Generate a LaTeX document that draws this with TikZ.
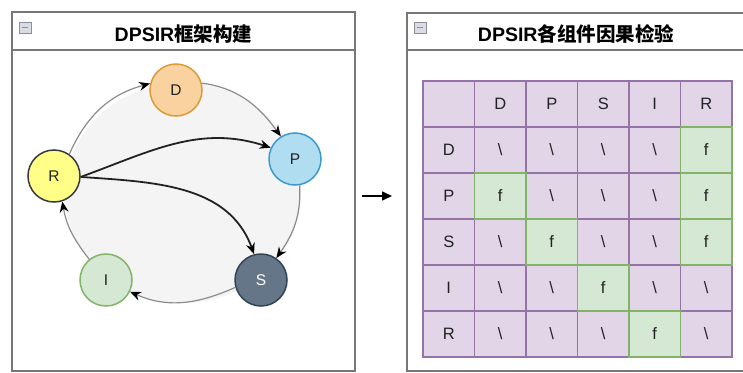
\documentclass[tikz,border=0pt]{standalone}
\usepackage{fontspec}
\setmainfont{Liberation Sans}
\newfontfamily\cjk{Noto Sans CJK SC}
\usetikzlibrary{arrows.meta}

\definecolor{panelline}{HTML}{777777}
\definecolor{iconfill}{HTML}{D9DCE3}
\definecolor{iconline}{HTML}{8A8F99}
\definecolor{cyclefill}{HTML}{F4F4F4}
\definecolor{cycleline}{HTML}{8C8C8C}
\definecolor{dfill}{HTML}{FAD29F}
\definecolor{dline}{HTML}{D89B3A}
\definecolor{pfill}{HTML}{B1DDF0}
\definecolor{pline}{HTML}{3A9AD0}
\definecolor{sfill}{HTML}{647687}
\definecolor{sline}{HTML}{314354}
\definecolor{ifill}{HTML}{D5E8D4}
\definecolor{iline}{HTML}{82B366}
\definecolor{rfill}{HTML}{FFFF88}
\definecolor{rline}{HTML}{36393D}
\definecolor{purplefill}{HTML}{E1D5E7}
\definecolor{purpleline}{HTML}{9673A6}
\definecolor{greenfill}{HTML}{D5E8D4}
\definecolor{greenline}{HTML}{82B366}
\definecolor{ink}{HTML}{222222}

\newcommand\bs{\textbackslash}

\begin{document}
\begin{tikzpicture}[x=1pt,y=1pt,
  panel/.style={draw=panelline,line width=2pt,fill=white},
  iconbox/.style={draw=iconline,fill=iconfill,line width=0.8pt},
  title/.style={anchor=base,inner sep=0pt,font=\fontsize{19.5}{20}\selectfont\bfseries,text=black},
  comp/.style={circle,minimum size=52pt,inner sep=0pt,line width=1.5pt,
    font=\fontsize{15.5}{16}\selectfont,text=ink},
  cyc/.style={draw=cycleline,line width=1.2pt,-{Stealth[length=11pt,width=9pt,color=black]}},
  link/.style={draw=ink,line width=1.8pt,-{Stealth[length=11pt,width=9pt,color=black]}},
  cell/.style={rectangle,minimum width=51.5pt,minimum height=46pt,inner sep=0pt,
    draw=purpleline,fill=purplefill,line width=1.5pt,
    font=\fontsize{16.5}{17}\selectfont,text=ink},
  gcell/.style={cell,draw=greenline,fill=greenfill}
]
\useasboundingbox (0,0) rectangle (743,-372);
\clip (0,0) rectangle (743,-372);

% left panel: DPSIR framework
\draw[panel] (12,-12) rectangle (355,-371);
\draw[panelline,line width=2pt] (12,-50) -- (355,-50);
\draw[iconbox] (19,-22) rectangle (31,-33);
\draw[iconline,line width=1.2pt] (22,-27.5) -- (28,-27.5);
\node[title] (ltitle) at (183.5,-41) {DPSIR{\cjk\bfseries 框架构建}};

% right panel: causality test table
\draw[panel] (407,-13) rectangle (745,-371);
\draw[panelline,line width=2pt] (407,-50) -- (745,-50);
\draw[iconbox] (414,-22) rectangle (426,-33);
\draw[iconline,line width=1.2pt] (417,-27.5) -- (423,-27.5);
\node[title] (rtitle) at (576,-41) {DPSIR{\cjk\bfseries 各组件因果检验}};

% arrow between the panels
\coordinate (go0) at (362,-196);
\coordinate (go1) at (392,-196);
\draw[line width=1.6pt,-{Triangle[length=10pt,width=9pt]}] (go0) -- (go1);

% cycle background
\fill[cyclefill] (183,-193) ellipse [x radius=118pt, y radius=110pt];

% components
\node[comp,fill=dfill,draw=dline] (D) at (176,-90) {D};
\node[comp,fill=pfill,draw=pline] (P) at (295,-159) {P};
\node[comp,fill=sfill,draw=sline,text=white] (S) at (261,-280) {S};
\node[comp,fill=ifill,draw=iline] (I) at (106,-280) {I};
\node[comp,fill=rfill,draw=rline] (R) at (54,-176) {R};

% cycle R -> D -> P -> S -> I -> R
\draw[cyc] (R.55) to[out=66,in=195] (D.166);
\draw[cyc] (D.15) to[out=-8,in=126] (P.122);
\draw[cyc] (P.-80) to[out=-87,in=55] (S.55);
\draw[cyc] (S.196) to[out=204,in=-24] (I.-26);
\draw[cyc] (I.129) to[out=128,in=-80] (R.-72);

% direct effects of R
\draw[link] (R.-2) to[out=20,in=162] (P.155);
\draw[link] (R.-2) to[out=-4,in=110] (S.105);

% table cells
\foreach \row [count=\r from 0] in {
    {{},D,P,S,I,R},
    {D,\bs,\bs,\bs,\bs,f},
    {P,f,\bs,\bs,\bs,f},
    {S,\bs,f,\bs,\bs,f},
    {I,\bs,\bs,f,\bs,\bs},
    {R,\bs,\bs,\bs,f,\bs}} {
  \foreach \tx [count=\c from 0] in \row {
    \node[cell] (t\r\c) at ({448.75+51.5*\c},{-104-46*\r}) {\tx};
  }
}
% significant causal links
\foreach \r/\c in {1/5,2/1,2/5,3/2,3/5,4/3,5/4} {
  \node[gcell] (g\r\c) at (t\r\c) {f};
}
\end{tikzpicture}
\end{document}
